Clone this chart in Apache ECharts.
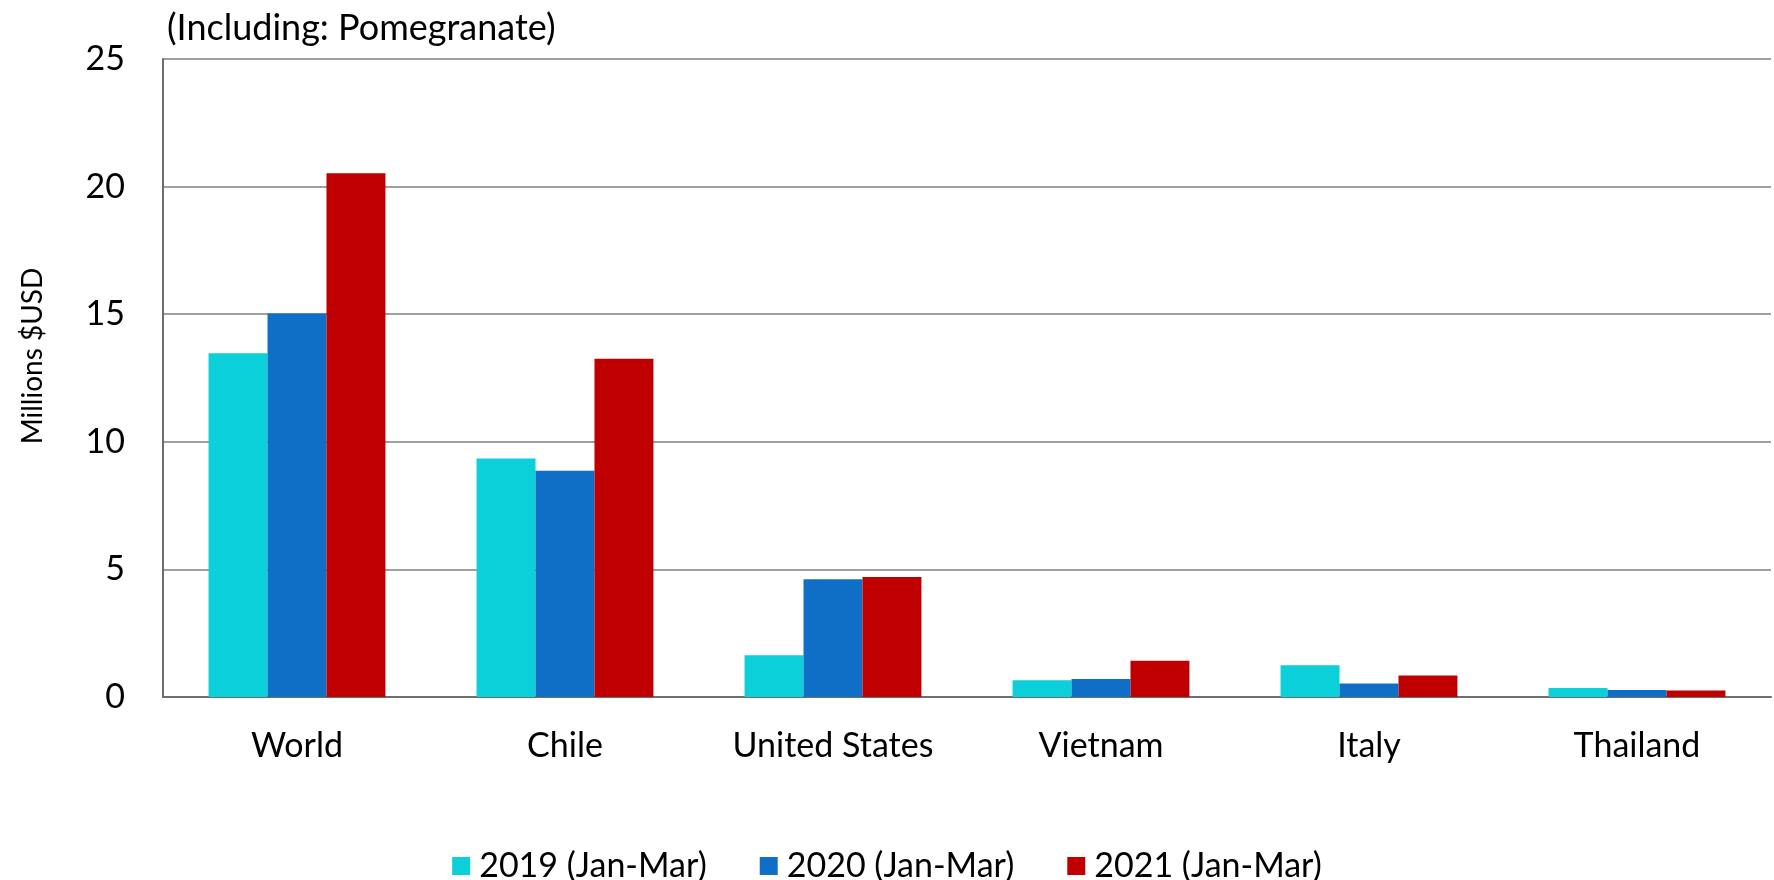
<!DOCTYPE html>
<html>
<head>
<meta charset="utf-8">
<script src="https://cdn.jsdelivr.net/npm/echarts@6/dist/echarts.min.js"></script>
<style>
  html, body { margin: 0; padding: 0; background: #fff; }
  #main { width: 1774px; height: 880px; }
</style>
</head>
<body>
<div id="main"></div>
<script>
// data
var countries = ['World', 'Chile', 'United States', 'Vietnam', 'Italy', 'Thailand'];
var y2019 = [13.47, 9.35, 1.64, 0.66, 1.24, 0.35];
var y2020 = [15.03, 8.87, 4.61, 0.71, 0.53, 0.27];
var y2021 = [20.52, 13.25, 4.70, 1.42, 0.84, 0.25];
var seriesNames = ['2019 (Jan-Mar)', '2020 (Jan-Mar)', '2021 (Jan-Mar)'];
var colors = ['#0bcfd9', '#0f6fc6', '#c00000'];

var font = 'Lato, "Open Sans", sans-serif';
var chart = echarts.init(document.getElementById('main'));

function bar(name, data, color) {
  return {
    name: name,
    type: 'bar',
    data: data,
    barGap: '0%',
    barCategoryGap: '34%',
    itemStyle: { color: color }
  };
}

chart.setOption({
  animation: false,
  color: colors,
  textStyle: { fontFamily: font },
  title: {
    text: '(Including: Pomegranate)',
    left: 162,
    top: 5,
    textStyle: { fontFamily: font, fontWeight: 'normal', fontSize: 36, color: '#000' }
  },
  legend: {
    bottom: -8,
    left: 'center',
    itemWidth: 18,
    itemHeight: 18,
    itemGap: 53,
    icon: 'rect',
    textStyle: { fontFamily: font, fontSize: 34, color: '#000', padding: [0, 0, 0, 4] },
    data: seriesNames
  },
  grid: { left: 163, right: 3, top: 59, bottom: 183, containLabel: false },
  xAxis: {
    type: 'category',
    data: countries,
    axisLine: { lineStyle: { color: '#6e6e6e', width: 2 } },
    axisTick: { show: false },
    axisLabel: { fontSize: 34, color: '#000', margin: 32, fontFamily: font }
  },
  yAxis: {
    type: 'value',
    min: 0,
    max: 25,
    interval: 5,
    name: 'Millions $USD',
    nameLocation: 'middle',
    nameGap: 116,
    nameTextStyle: { fontSize: 28, color: '#000', fontFamily: font, padding: [0, 0, 0, 44] },
    axisLine: { show: true, lineStyle: { color: '#6e6e6e', width: 2 } },
    axisTick: { show: false },
    axisLabel: { fontSize: 34, color: '#000', margin: 38, fontFamily: font },
    splitLine: { lineStyle: { color: '#7f7f7f', width: 1.5 } }
  },
  series: [
    bar(seriesNames[0], y2019, colors[0]),
    bar(seriesNames[1], y2020, colors[1]),
    bar(seriesNames[2], y2021, colors[2])
  ]
});
</script>
</body>
</html>
